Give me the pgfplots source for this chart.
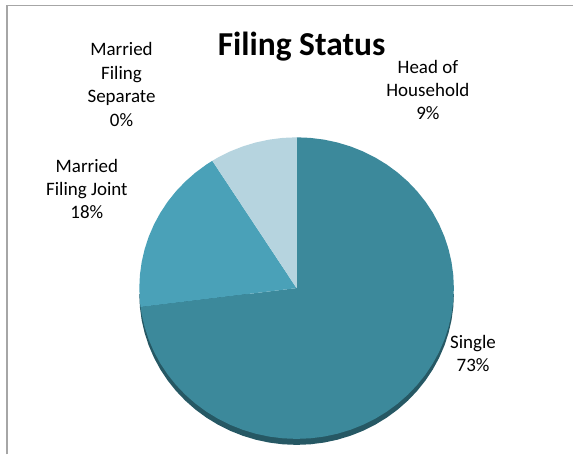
\documentclass[border=0pt]{standalone}
\usepackage{pgfplots}
\pgfplotsset{compat=1.18}
\usepackage{fontspec}
\setmainfont{Carlito}
\definecolor{cSingle}{HTML}{3C899B}
\definecolor{cJoint}{HTML}{4AA1B8}
\definecolor{cHead}{HTML}{B6D4DF}
\definecolor{cShadow}{HTML}{265864}
\definecolor{cFrame}{HTML}{A6A6A6}
% Values: Single 73%, Married Filing Joint 18%, Head of Household 9%, Married Filing Separate 0%
% Angles (deg, clockwise from 90): Single 90 -> -172.8 ; Joint 187.2 -> 122.4 ; Head 122.4 -> 90
\begin{document}
\begin{tikzpicture}
\begin{axis}[
  scale only axis, width=574pt, height=455pt,
  xmin=-1.8857, xmax=1.7587, ymin=-1.1026, ymax=1.9106,
  hide axis, clip=false,
]
\path (rel axis cs:0,0) rectangle (rel axis cs:1,1);
% frame
\draw[cFrame, line width=1.6pt] (rel axis cs:{7/574},0) -- (rel axis cs:{7/574},{1-5.5/455}) -- (rel axis cs:1,{1-5.5/455});
% shadow
\addplot[fill=cShadow, draw=none, data cs=polar, yshift=-6pt] coordinates {
(0,1) (-5,1) (-10,1) (-15,1) (-20,1) (-25,1) (-30,1) (-35,1) (-40,1) (-45,1) (-50,1) (-55,1) (-60,1) (-65,1) (-70,1) (-75,1) (-80,1) (-85,1) (-90,1) (-95,1) (-100,1) (-105,1) (-110,1) (-115,1) (-120,1) (-125,1) (-130,1) (-135,1) (-140,1) (-145,1) (-150,1) (-155,1) (-160,1) (-165,1) (-170,1) (-175,1) (-180,1)
} -- cycle;
% Single 73%
\addplot[fill=cSingle, draw=none, data cs=polar] coordinates {
(0,0) (90,1) (85,1) (80,1) (75,1) (70,1) (65,1) (60,1) (55,1) (50,1) (45,1) (40,1) (35,1) (30,1) (25,1) (20,1) (15,1) (10,1) (5,1) (0,1) (-5,1) (-10,1) (-15,1) (-20,1) (-25,1) (-30,1) (-35,1) (-40,1) (-45,1) (-50,1) (-55,1) (-60,1) (-65,1) (-70,1) (-75,1) (-80,1) (-85,1) (-90,1) (-95,1) (-100,1) (-105,1) (-110,1) (-115,1) (-120,1) (-125,1) (-130,1) (-135,1) (-140,1) (-145,1) (-150,1) (-155,1) (-160,1) (-165,1) (-170,1) (-172.8,1)
} -- cycle;
% Married Filing Joint 18%
\addplot[fill=cJoint, draw=none, data cs=polar] coordinates {
(0,0) (187.2,1) (185,1) (180,1) (175,1) (170,1) (165,1) (160,1) (155,1) (150,1) (145,1) (140,1) (135,1) (130,1) (125,1) (122.4,1)
} -- cycle;
% Head of Household 9%
\addplot[fill=cHead, draw=none, data cs=polar] coordinates {
(0,0) (122.4,1) (120,1) (115,1) (110,1) (105,1) (100,1) (95,1) (90,1)
} -- cycle;
% title
\node[anchor=base, inner sep=0, font=\fontsize{33.5}{40}\selectfont\bfseries] at (rel axis cs:{302/574},{1-56/455}) {Filing Status};
% labels
\tikzset{lbl/.style={anchor=base, inner sep=0, font=\fontsize{19}{23}\selectfont}}
\node[lbl] at (rel axis cs:{121.7/574},{1-55.7/455}) {Married};
\node[lbl] at (rel axis cs:{121.7/574},{1-79.2/455}) {Filing};
\node[lbl] at (rel axis cs:{121.7/574},{1-102.7/455}) {Separate};
\node[lbl] at (rel axis cs:{121.7/574},{1-126.2/455}) {0\%};
\node[lbl] at (rel axis cs:{428.5/574},{1-73.3/455}) {Head of};
\node[lbl] at (rel axis cs:{428.5/574},{1-96.7/455}) {Household};
\node[lbl] at (rel axis cs:{428.5/574},{1-120.1/455}) {9\%};
\node[lbl] at (rel axis cs:{87/574},{1-172.7/455}) {Married};
\node[lbl] at (rel axis cs:{87/574},{1-196/455}) {Filing Joint};
\node[lbl] at (rel axis cs:{87/574},{1-219.3/455}) {18\%};
\node[lbl] at (rel axis cs:{473.7/574},{1-349.3/455}) {Single};
\node[lbl] at (rel axis cs:{473.7/574},{1-371.7/455}) {73\%};
\end{axis}
\end{tikzpicture}
\end{document}
